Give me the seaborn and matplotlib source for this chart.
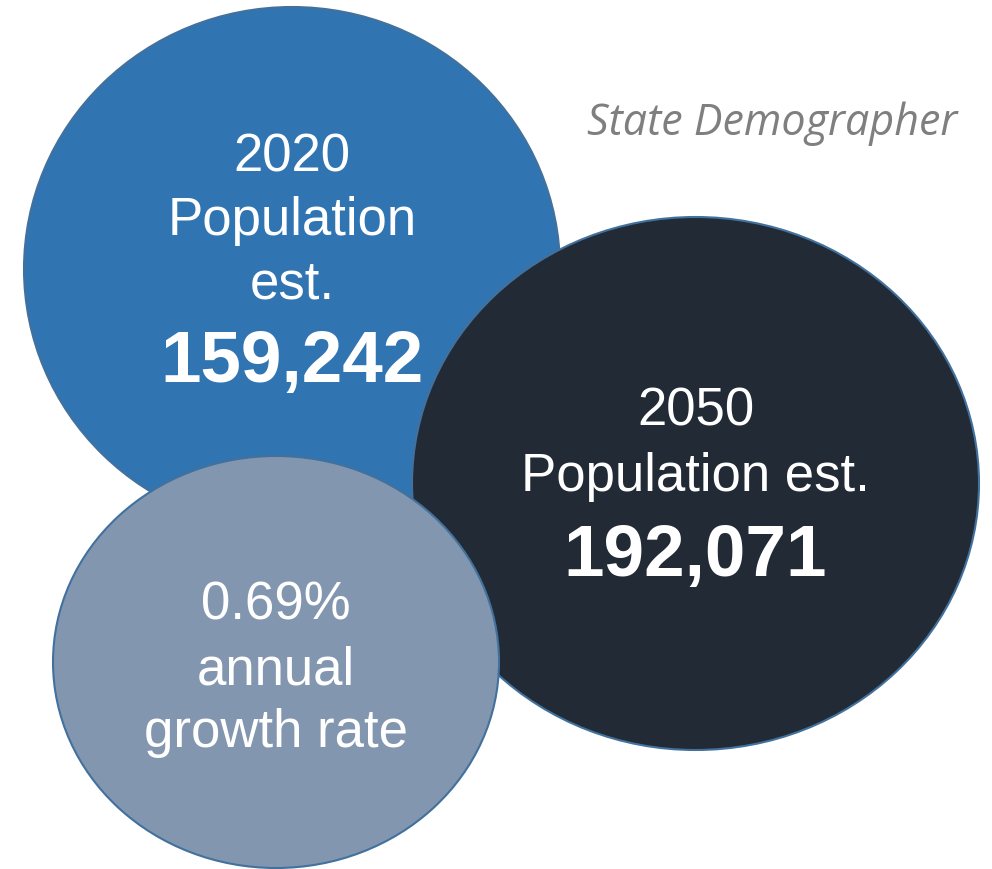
import matplotlib
matplotlib.use("Agg")
import matplotlib.pyplot as plt
from matplotlib.patches import Ellipse
import seaborn as sns

# Bubble contents
headers = [["2020", "Population", "est."], ["2050", "Population est."], ["0.69%", "annual", "growth rate"]]
figures = ["159,242", "192,071", None]
bubble_colors = ["#3174B2", "#222A35", "#8396AF"]
edge_color = "#41719C"
source_note = "State Demographer"

# Bubble geometry in pixel units (x right, y down)
centers = [(292, 270), (695.5, 484.5), (276, 663)]
radii = [(268, 262), (283.5, 266.5), (223, 206)]
header_baselines = [[171, 235, 299], [426, 491], [620, 685, 747]]
figure_baselines = [382, 576, None]

sns.set_theme(style="white")
plt.rcParams["font.family"] = ["Liberation Sans", "DejaVu Sans"]

fig = plt.figure(figsize=(9.92, 8.70), dpi=100)
ax = fig.add_axes([0, 0, 1, 1])
ax.set_xlim(0, 992)
ax.set_ylim(870, 0)
ax.set_axis_off()

for i, (c, (rx, ry), col) in enumerate(zip(centers, radii, bubble_colors)):
    ax.add_patch(Ellipse(c, 2 * rx, 2 * ry, facecolor=col, edgecolor=edge_color,
                         linewidth=1.5, zorder=1 + i))
    for line, yb in zip(headers[i], header_baselines[i]):
        ax.text(c[0], yb, line, color="white", fontsize=38, ha="center",
                va="baseline", zorder=10 + i)
    if figures[i] is not None:
        ax.text(c[0], figure_baselines[i], figures[i], color="white", fontsize=52.5,
                fontweight="bold", ha="center", va="baseline", zorder=10 + i)

ax.text(957, 135, source_note, color="#7F7F7F", fontsize=31, fontstyle="italic",
        family=["Open Sans", "DejaVu Sans"], ha="right", va="baseline", zorder=20)

fig.savefig("out.png", dpi=100, facecolor="white")
